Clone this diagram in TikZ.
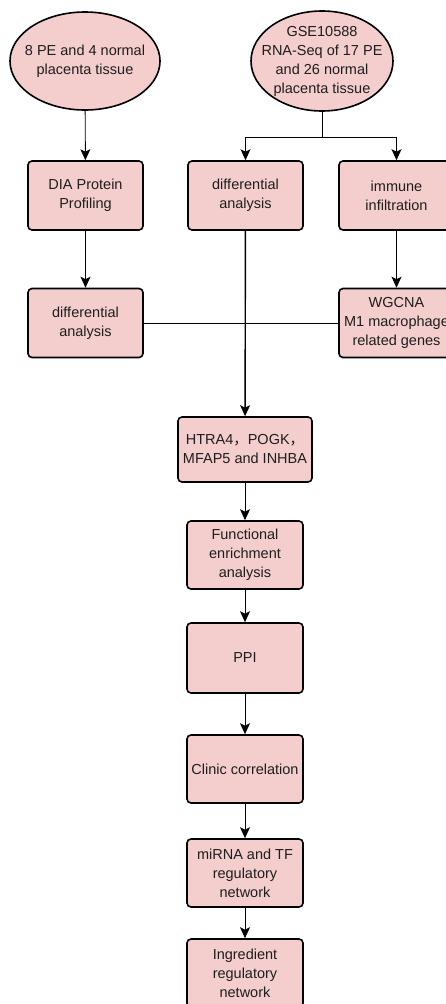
\documentclass[tikz,border=0pt]{standalone}
\usepackage{fontspec}
\setmainfont{Liberation Sans}
\newfontfamily\cjk{Noto Sans CJK SC}
\usepackage{tikz}
\usetikzlibrary{arrows.meta}
\usetikzlibrary{shapes}
\usetikzlibrary{calc}
\usepackage{xcolor}
\definecolor{shaded-pink}{RGB}{244,205,205}
\definecolor{text-grey}{RGB}{30,30,30}
\tikzstyle{stepbox}=[draw, thick, line width=1.6pt, rounded corners=4pt, fill=shaded-pink, minimum width=115pt, minimum height=69pt, inner sep=1pt, align=center, text=text-grey, font=\fontsize{14.5}{19}\selectfont]
\tikzstyle{source}=[stepbox, ellipse, rounded corners=0pt, inner ysep=0pt]
\tikzstyle{flow}=[line width=0.9pt, -{Stealth[length=11pt,width=10pt,inset=2.5pt]}]
\tikzstyle{plain}=[line width=0.9pt]

\begin{document}
\begin{tikzpicture}[x=1pt, y=-1pt]
	\useasboundingbox (0,0) rectangle (446,1004);
	\node[source, inner xsep=-7pt, minimum width=146pt, minimum height=98pt] (e1) at (85,61) {8 PE and 4 normal\\placenta tissue};
	\node[source, inner xsep=-13pt, inner ysep=-5pt, minimum width=142pt, minimum height=100pt] (e2) at (322,61) {GSE10588\\RNA-Seq of 17 PE\\and 26 normal\\placenta tissue};
	\node[stepbox] (dia) at (85.5,195.5) {DIA Protein\\Profiling};
	\node[stepbox] (diff2) at (245.5,195.5) {differential\\analysis};
	\node[stepbox] (immune) at (396.5,195.5) {immune\\infiltration};
	\node[stepbox] (diff1) at (85.5,323) {differential\\analysis};
	\node[stepbox] (wgcna) at (396.5,323) {WGCNA\\M1 macrophage\\related genes};
	\node[stepbox, minimum width=134pt, minimum height=65pt] (genes) at (245,449.5) {HTRA4{\cjk ，}POGK{\cjk ，}\\MFAP5 and INHBA};
	\node[stepbox, minimum width=116pt, minimum height=68pt] (func) at (245,555) {Functional\\enrichment\\analysis};
	\node[stepbox, minimum width=116pt, minimum height=70pt] (ppi) at (245,658) {PPI};
	\node[stepbox, minimum width=116pt, minimum height=68pt] (clinic) at (245,769) {Clinic correlation};
	\node[stepbox, minimum width=116pt, minimum height=68pt] (mirna) at (245,873) {miRNA and TF\\regulatory\\network};
	\node[stepbox, minimum width=116pt, minimum height=68pt] (ingred) at (245,973) {Ingredient\\regulatory\\network};
	\coordinate (split) at (322,137);
	\draw[flow] (e1) -- (dia);
	\draw[flow] (dia) -- (diff1);
	\draw[plain] (e2) -- (split);
	\draw[flow] (split) -| (diff2);
	\draw[flow] (split) -| (immune);
	\draw[flow] (immune) -- (wgcna);
	\draw[plain] (diff1) -- (wgcna);
	\draw[flow, line width=1.4pt] (diff2) -- (genes);
	\draw[flow] (genes) -- (func);
	\draw[flow] (func) -- (ppi);
	\draw[flow] (ppi) -- (clinic);
	\draw[flow] (clinic) -- (mirna);
	\draw[flow] (mirna) -- (ingred);
\end{tikzpicture}
\end{document}
